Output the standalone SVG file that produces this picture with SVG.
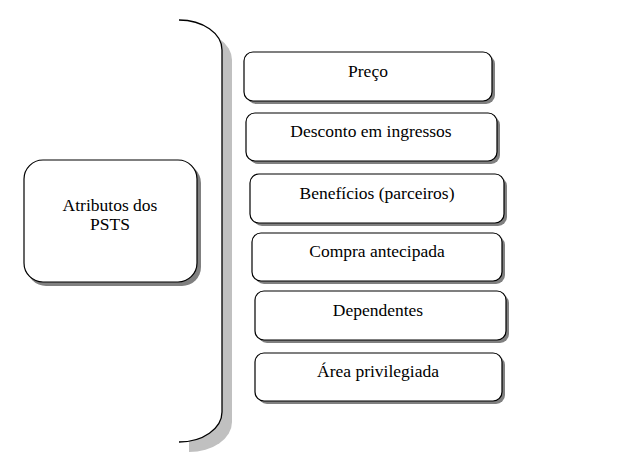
<svg xmlns="http://www.w3.org/2000/svg" width="635" height="467" viewBox="0 0 635 467">
<style>
.sh{fill:#808080}
.bx{fill:#fff;stroke:#000;stroke-width:1.2}
.t{font-family:'Liberation Serif','DejaVu Serif',serif;font-size:17.5px;fill:#000;text-anchor:middle}
</style>
<rect width="635" height="467" fill="#fff"/>
<g id="connectors">
<path d="M189,30 A43,30 0 0 1 232,60 V422 A43,30 0 0 1 189,452 Z" fill="#c0c0c0"/>
<path d="M179,20 A43,30 0 0 1 222,50 V412 A43,30 0 0 1 179,442 Z" fill="#fff"/>
<path d="M179,20 A43,30 0 0 1 222,50 V412 A43,30 0 0 1 179,442" fill="none" stroke="#000" stroke-width="1.3"/>
</g>
<g id="main">
<rect class="sh" x="27" y="164" width="174" height="122" rx="19"/>
<rect class="bx" x="24" y="160" width="173" height="122" rx="19"/>
<text class="t" x="110" y="211" font-family="Liberation Serif, serif">Atributos dos</text>
<text class="t" x="110" y="230" font-family="Liberation Serif, serif">PSTS</text>
</g>
<g id="preco">
<rect class="sh" x="247" y="55" width="248" height="49" rx="9"/>
<rect class="bx" x="244" y="52" width="248" height="49" rx="9"/>
<text class="t" x="368" y="77">Preço</text>
</g>
<g id="desconto">
<rect class="sh" x="249" y="116" width="251" height="48" rx="9"/>
<rect class="bx" x="246" y="113" width="251" height="48" rx="9"/>
<text class="t" x="371" y="137">Desconto em ingressos</text>
</g>
<g id="beneficios">
<rect class="sh" x="253" y="177" width="254" height="49" rx="9"/>
<rect class="bx" x="250" y="174" width="254" height="49" rx="9"/>
<text class="t" x="377" y="199">Benefícios (parceiros)</text>
</g>
<g id="compra">
<rect class="sh" x="255" y="236" width="250" height="48" rx="9"/>
<rect class="bx" x="252" y="233" width="250" height="48" rx="9"/>
<text class="t" x="377" y="257">Compra antecipada</text>
</g>
<g id="dependentes">
<rect class="sh" x="258" y="294" width="251" height="49" rx="9"/>
<rect class="bx" x="255" y="291" width="251" height="49" rx="9"/>
<text class="t" x="378" y="316">Dependentes</text>
</g>
<g id="area">
<rect class="sh" x="258" y="356" width="247" height="48" rx="9"/>
<rect class="bx" x="255" y="353" width="247" height="48" rx="9"/>
<text class="t" x="378" y="377">Área privilegiada</text>
</g>
</svg>
